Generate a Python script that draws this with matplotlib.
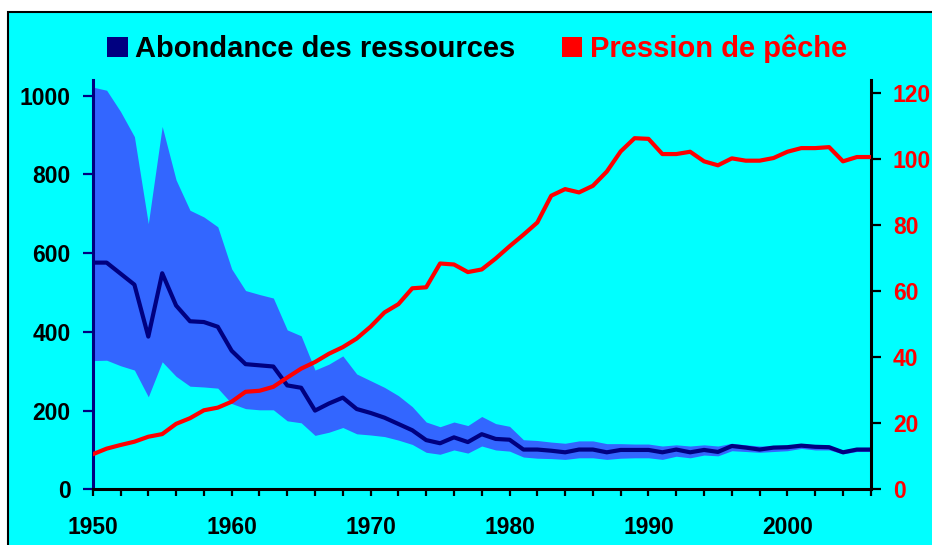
import matplotlib
matplotlib.use("Agg")
import matplotlib.pyplot as plt
from matplotlib.patches import Patch, Rectangle
import numpy as np

# Abondance des ressources / pression de peche, 1950-2006
years = np.arange(1950, 2007)

abondance = [576, 576, 548, 520, 388, 549, 467, 427, 425, 413,
             352, 318, 315, 312, 264, 258, 200, 218, 233, 204,
             194, 182, 166, 150, 125, 117, 132, 120, 140, 128,
             126, 101, 101, 98, 94, 101, 101, 94, 100, 100,
             100, 94, 101, 94, 100, 95, 110, 106, 101, 106,
             107, 111, 108, 107, 94, 101, 101]

abondance_haut = [1022, 1014, 960, 896, 675, 922, 786, 709, 692, 667,
                  560, 505, 495, 486, 405, 390, 303, 318, 339, 293,
                  276, 259, 238, 210, 171, 159, 171, 162, 185, 167,
                  160, 126, 124, 120, 117, 123, 123, 116, 116, 115,
                  115, 110, 113, 110, 113, 110, 117, 113, 110, 110,
                  110, 116, 113, 110, 100, 105, 105]

abondance_bas = [327, 328, 314, 303, 235, 324, 287, 262, 260, 257,
                 218, 205, 202, 202, 174, 169, 137, 145, 157, 141,
                 138, 134, 125, 114, 94, 89, 100, 92, 110, 100,
                 97, 82, 79, 78, 76, 80, 80, 76, 79, 80,
                 80, 76, 84, 80, 87, 85, 98, 96, 94, 96,
                 98, 104, 100, 100, 90, 96, 96]

pression = [10.6, 12.3, 13.4, 14.4, 15.9, 16.7, 19.8, 21.5, 23.9, 24.7,
            26.5, 29.5, 29.8, 31.0, 33.8, 36.5, 38.5, 41.0, 43.0, 45.6,
            49.2, 53.5, 56.0, 60.8, 61.1, 68.3, 68.0, 65.7, 66.5, 69.8,
            73.5, 77.0, 80.7, 88.8, 90.8, 89.8, 91.8, 96.1, 102.2, 106.2,
            106.0, 101.4, 101.4, 102.1, 99.2, 98.0, 100.1, 99.4, 99.4, 100.2,
            102.1, 103.2, 103.2, 103.5, 99.2, 100.5, 100.5]

labels = ["Abondance des ressources", "Pression de pêche"]

cyan = "#00FFFF"
navy = "#000080"
bande = "#3366FF"
rouge = "#FF0000"

plt.rcParams["font.family"] = ["Liberation Sans", "DejaVu Sans"]
plt.rcParams["font.weight"] = "bold"

fig = plt.figure(figsize=(9.32, 5.45), dpi=100)
fig.patch.set_facecolor("white")
# cyan panel with black border (top and left visible)
fig.patches.append(Rectangle((8 / 932, -0.02), 1.0, 1 - 12 / 545 + 0.02,
                             transform=fig.transFigure, facecolor=cyan,
                             edgecolor="black", linewidth=1.5, zorder=-10))

ax = fig.add_axes([0.0995, 0.1022, 0.8348, 0.751])
ax.set_facecolor("none")
ax.fill_between(years, abondance_bas, abondance_haut, color=bande, linewidth=0, zorder=1)
ax.plot(years, abondance, color=navy, linewidth=3, zorder=2)
ax.set_xlim(1950, 2006)
ax.set_ylim(0, 1040)
ax.set_yticks(np.arange(0, 1001, 200))
ax.set_xticks(np.arange(1950, 2001, 10))
ax.set_xticks(np.arange(1950, 2007, 2), minor=True)

ax2 = ax.twinx()
ax2.plot(years, pression, color=rouge, linewidth=3, zorder=3)
ax2.set_ylim(0, 123.8)
ax2.set_yticks(np.arange(0, 121, 20))

for a in (ax, ax2):
    a.spines["top"].set_visible(False)
    for s in a.spines.values():
        s.set_linewidth(2.2)
ax.spines["right"].set_visible(False)
ax2.spines["left"].set_visible(False)
ax2.spines["bottom"].set_visible(False)
ax.spines["left"].set_color(navy)
ax.spines["bottom"].set_color("black")
ax2.spines["right"].set_color("black")

ax.tick_params(axis="y", direction="out", length=7, width=1.6, color=navy,
               labelsize=16.5, labelcolor="black", pad=9)
ax.tick_params(axis="x", which="both", direction="out", length=5, width=1.6,
               color="black", labelsize=16.5, pad=14)
ax.tick_params(axis="x", which="minor", labelbottom=False)
ax2.tick_params(axis="y", direction="out", length=7, width=1.6, color="black",
                labelsize=16.5, labelcolor=rouge, pad=9)

for lab in ax.get_xticklabels() + ax.get_yticklabels() + ax2.get_yticklabels():
    lab.set_fontweight("bold")

handles = [Patch(facecolor=navy, edgecolor="none"),
           Patch(facecolor=rouge, edgecolor="none")]
leg = fig.legend(handles, labels, loc="center", bbox_to_anchor=(0.512, 0.910),
                 ncol=2, frameon=False, handlelength=0.7,
                 handleheight=0.7, handletextpad=0.25, columnspacing=1.6,
                 labelcolor=["black", rouge], prop={"weight": "bold", "size": 21})

fig.savefig("out.png", dpi=100, facecolor=fig.get_facecolor())
